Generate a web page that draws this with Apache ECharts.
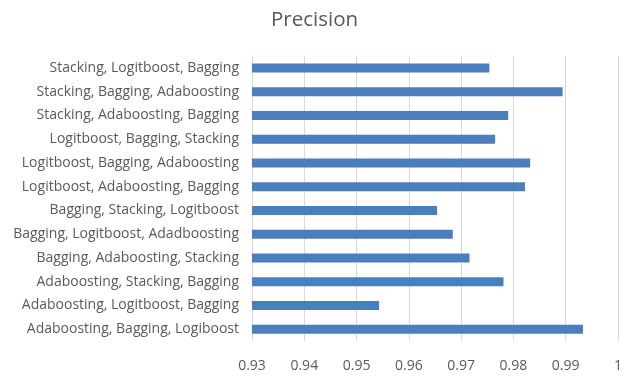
<!DOCTYPE html>
<html>
<head>
<meta charset="utf-8">
<script src="https://cdn.jsdelivr.net/npm/echarts@6/dist/echarts.min.js"></script>
<style>
  html, body { margin: 0; padding: 0; background: #fff; }
  #chart { width: 629px; height: 376px; }
</style>
</head>
<body>
<div id="chart"></div>
<script>
// Ensemble orderings, listed top to bottom
const categories = [
  'Stacking, Logitboost, Bagging',
  'Stacking, Bagging, Adaboosting',
  'Stacking, Adaboosting, Bagging',
  'Logitboost, Bagging, Stacking',
  'Logitboost, Bagging, Adaboosting',
  'Logitboost, Adaboosting, Bagging',
  'Bagging, Stacking, Logitboost',
  'Bagging, Logitboost, Adadboosting',
  'Bagging, Adaboosting, Stacking',
  'Adaboosting, Stacking, Bagging',
  'Adaboosting, Logitboost, Bagging',
  'Adaboosting, Bagging, Logiboost'
];

// Precision per ordering
const precision = [
  0.9754, 0.9894, 0.9790, 0.9765, 0.9832, 0.9822,
  0.9654, 0.9684, 0.9716, 0.9781, 0.9543, 0.9933
];

const axisTicks = { min: 0.93, max: 1, interval: 0.01 };

const textColor = '#595959';
const fontFamily = '"Open Sans", Lato, sans-serif';

const chart = echarts.init(document.getElementById('chart'), null, { renderer: 'canvas' });
chart.setOption({
  animation: false,
  backgroundColor: '#fff',
  title: {
    text: 'Precision',
    left: 'center',
    top: 5,
    textStyle: { color: textColor, fontSize: 20.5, fontWeight: 'normal', fontFamily: fontFamily }
  },
  grid: { left: 252, right: 11, top: 56, bottom: 35, containLabel: false },
  xAxis: {
    type: 'value',
    min: axisTicks.min,
    max: axisTicks.max,
    interval: axisTicks.interval,
    axisLine: { show: false },
    axisTick: { show: false },
    splitLine: { show: true, lineStyle: { color: '#d9d9d9', width: 1 } },
    axisLabel: {
      color: textColor, fontSize: 14, fontFamily: fontFamily, margin: 18,
      formatter: v => String(parseFloat(v.toFixed(2)))
    }
  },
  yAxis: {
    type: 'category',
    data: categories,
    inverse: true,
    axisLine: { show: false },
    axisTick: { show: false },
    axisLabel: { color: textColor, fontSize: 14, fontFamily: fontFamily, margin: 13 }
  },
  series: [{
    type: 'bar',
    data: precision,
    barWidth: 9,
    itemStyle: { color: '#4a7ebf' }
  }]
});
</script>
</body>
</html>
